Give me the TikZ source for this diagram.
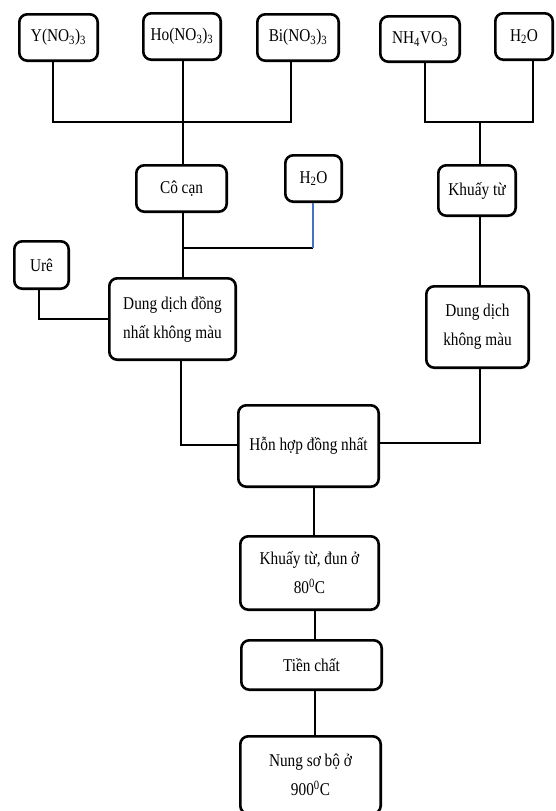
\documentclass[tikz,border=0pt]{standalone}
\usepackage{fontspec}
\setmainfont[FakeStretch=0.85]{Liberation Serif}
\definecolor{linkblue}{rgb}{0.27,0.45,0.77}
\begin{document}
\begin{tikzpicture}[x=1pt,y=-1pt,
  box/.style={draw=black, line width=2.6pt, rounded corners=8pt, inner sep=0pt,
    align=center, fill=white, font={\fontsize{18}{29}\selectfont}},
  link/.style={draw=black, line width=1.2pt}]
\useasboundingbox (0,0) rectangle (556,811);
\fill[white] (0,0) rectangle (556,811);

% boxes (centre, outer width/height minus line width)
\node[box, minimum width=78.4, minimum height=46.4] (y3) at (58.5,37.5) {Y(NO\textsubscript{3})\textsubscript{3}};
\node[box, minimum width=77.4, minimum height=46.4] (ho) at (182,36.5) {Ho(NO\textsubscript{3})\textsubscript{3}};
\node[box, minimum width=81.4, minimum height=46.4] (bi) at (298,37.5) {Bi(NO\textsubscript{3})\textsubscript{3}};
\node[box, minimum width=79.4, minimum height=45.4] (nh) at (420,39) {NH\textsubscript{4}VO\textsubscript{3}};
\node[box, minimum width=57.4, minimum height=46.4] (wa) at (524,36.5) {H\textsubscript{2}O};
\node[box, minimum width=90.4, minimum height=46.4] (cc) at (181.5,188.5) {Cô cạn};
\node[box, minimum width=56.4, minimum height=46.4] (wb) at (313.5,178.5) {H\textsubscript{2}O};
\node[box, minimum width=77.4, minimum height=50.4] (kt) at (477,190.5) {Khuấy từ};
\node[box, minimum width=54.4, minimum height=47.4] (ure) at (41.5,265) {Urê};
\node[box, minimum width=126.4, minimum height=81.4] (dd1) at (172.5,319) {Dung dịch đồng\\nhất không màu};
\node[box, minimum width=102.4, minimum height=81.4] (dd2) at (477.5,327) {Dung dịch\\không màu};
\node[box, minimum width=140.4, minimum height=81.4] (hh) at (308.5,446) {Hỗn hợp đồng nhất};
\node[box, minimum width=138.4, minimum height=73.4] (kd) at (309.5,573) {Khuấy từ, đun ở\\80\textsuperscript{0}C};
\node[box, minimum width=140.4, minimum height=49.4] (tc) at (311.5,665) {Tiền chất};
\node[box, minimum width=140.4, minimum height=77.4] (ns) at (310.5,775) {Nung sơ bộ ở\\900\textsuperscript{0}C};

% junction points
\coordinate (jy) at (53,122);
\coordinate (jb) at (291,122);
\coordinate (jh) at (183,122);
\coordinate (jw) at (183,248);
\coordinate (jw2) at (313,248);
\coordinate (jn) at (425,122);
\coordinate (ja) at (533,122);
\coordinate (jr) at (480,122);
\coordinate (ju) at (39,319);
\coordinate (jl) at (181,445);
\coordinate (jrr) at (480,443);
\coordinate (jc) at (314,0);
\coordinate (jc2) at (315,0);

\begin{scope}[on background layer/.try]
\end{scope}

% connectors
\draw[link] (y3.south -| jy) -- (jy) -- (jb) -- (bi.south -| jb);
\draw[link] (ho.south -| jh) -- (cc.north -| jh);
\draw[link] (cc.south -| jh) -- (dd1.north -| jh);
\draw[link] (jw) -- (jw2);
\draw[line width=1.2pt, draw=linkblue] (jw2) -- (wb.south -| jw2);
\draw[link] (nh.south -| jn) -- (jn) -- (ja) -- (wa.south -| ja);
\draw[link] (jr) -- (kt.north -| jr);
\draw[link] (kt.south -| jr) -- (dd2.north -| jr);
\draw[link] (ure.south -| ju) -- (ju) -- (dd1.west |- ju);
\draw[link] (dd1.south -| jl) -- (jl) -- (hh.west |- jl);
\draw[link] (dd2.south -| jrr) -- (jrr) -- (hh.east |- jrr);
\draw[link] (hh.south -| jc) -- (kd.north -| jc);
\draw[link] (kd.south -| jc2) -- (tc.north -| jc2);
\draw[link] (tc.south -| jc2) -- (ns.north -| jc2);
\end{tikzpicture}
\end{document}
